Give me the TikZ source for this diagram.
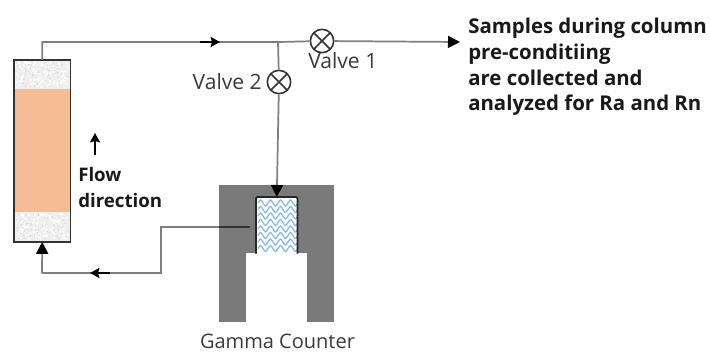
\documentclass[tikz,border=0pt]{standalone}
\usepackage{fontspec}
\setmainfont{Open Sans}
\usetikzlibrary{positioning,arrows.meta}
\definecolor{pipegray}{HTML}{7F7F7F}
\definecolor{boxgray}{HTML}{7A7A7A}
\definecolor{resin}{HTML}{F4BD96}
\definecolor{packing}{HTML}{EFEFEF}
\definecolor{wave}{HTML}{8DBBE6}
\definecolor{inktext}{HTML}{3A3A3A}
\tikzset{
  pipe/.style={draw=pipegray,line width=1.3pt},
  pipetip/.style={pipe,-{Stealth[length=9pt,width=9pt,inset=0pt,black]}},
  flowtip/.style={-{Stealth[length=7pt,width=7.5pt,inset=1pt]},black,line width=1.8pt},
  valve/.style={circle,draw=black!80,fill=white,line width=1.2pt,minimum size=17.5pt,inner sep=0pt,
    path picture={\draw[black!80,line width=1.2pt]
      (path picture bounding box.north west)--(path picture bounding box.south east)
      (path picture bounding box.north east)--(path picture bounding box.south west);}},
  plainlabel/.style={text=inktext,font=\fontsize{15.8}{18}\selectfont,inner sep=0pt},
  boldlabel/.style={text=black!90,font=\fontsize{15.3}{19.2}\selectfont\bfseries,inner sep=0pt,align=left},
  box/.style={rectangle,inner sep=0pt,anchor=north west}
}
\begin{document}
\begin{tikzpicture}[>=stealth,x=0.75pt,y=-0.75pt]
  \useasboundingbox (0,0) rectangle (710,353);
  % column
  \node (column) at (14,60) [box,minimum width=42pt,minimum height=136pt,fill=packing]{};
  \node (resin) at (14,89) [box,minimum width=42pt,minimum height=92pt,fill=resin]{};
  \pgfmathsetseed{7}
  \foreach \i in {1,...,90}
  {
    \fill[white] (16+52*rnd,62+25*rnd) circle (1.2);
    \fill[gray!45] (16+52*rnd,62+25*rnd) circle (0.5);
    \fill[white] (16+52*rnd,214+25*rnd) circle (1.2);
    \fill[gray!45] (16+52*rnd,214+25*rnd) circle (0.5);
  }
  \draw[black!80,line width=1.3pt] (column.north west) rectangle (column.south east);
  % gamma counter
  \node (shield) at (219,185) [box,minimum width=86.25pt,minimum height=102.75pt,fill=boxgray]{};
  \node (well) at (246,253) [box,minimum width=45.75pt,minimum height=51.75pt,fill=white]{};
  \node (sample) at (256,197) [box,minimum width=30.75pt,minimum height=42pt,fill=white]{};
  \foreach \y in {203,209.5,...,250}
  {
    \draw[wave,line width=1pt] (258,\y)
    \foreach \x in {258,268,...,288}
    { .. controls (\x+2.5,\y-4) and (\x+2.5,\y-4) .. (\x+5,\y) .. controls (\x+7.5,\y+4) and (\x+7.5,\y+4) .. (\x+10,\y) };
  }
  \draw[black!85,line width=1.3pt,rounded corners=1pt] (sample.south west)--(sample.north west)--(sample.north east)--(sample.south east);
  % pipes
  \coordinate (junction) at (278,42);
  \coordinate (outlet) at (460,42);
  \coordinate (bend1) at (161,227);
  \coordinate (bend2) at (161,273);
  \coordinate (bend3) at (42,273);
  \coordinate (shieldin) at (219,227);
  \coordinate (returnin) at (250,227);
  \node (valve1) at (322,41) [valve]{};
  \node (valve2) at (279,82) [valve]{};
  \draw[pipe] (column.north)|-(junction)--(valve1);
  \draw[pipetip] (valve1)--(outlet);
  \draw[pipe] (junction)--(valve2);
  \draw[pipetip] (valve2)--(sample.north);
  \draw[pipe] (shieldin)--(bend1)--(bend2)--(bend3);
  \draw[pipetip] (bend3)--(column.south);
  \draw[black!80,line width=1.2pt] (returnin)--(shieldin);
  % flow arrows
  \coordinate (top1) at (200,42);
  \coordinate (top2) at (220,42);
  \coordinate (ret1) at (110,273);
  \coordinate (ret2) at (90,273);
  \coordinate (dir1) at (95,155);
  \coordinate (dir2) at (95,133);
  \draw[flowtip] (top1)--(top2);
  \draw[flowtip] (ret1)--(ret2);
  \draw[flowtip] (dir1)--(dir2);
  % labels
  \node (flow) at (78,187) [boldlabel,anchor=west,font=\fontsize{14}{19.5}\selectfont\bfseries]{Flow\\direction};
  \node (v1lab) at (308,61) [plainlabel,anchor=west]{Valve 1};
  \node (v2lab) at (262,82) [plainlabel,anchor=east]{Valve 2};
  \node (counter) at (277.5,348) [plainlabel,anchor=base,font=\fontsize{15}{18}\selectfont]{Gamma Counter};
  \node (samples) at (468,67) [boldlabel,anchor=west]{Samples during column\\pre-conditiing\\are collected and\\analyzed for Ra and Rn};
\end{tikzpicture}
\end{document}
